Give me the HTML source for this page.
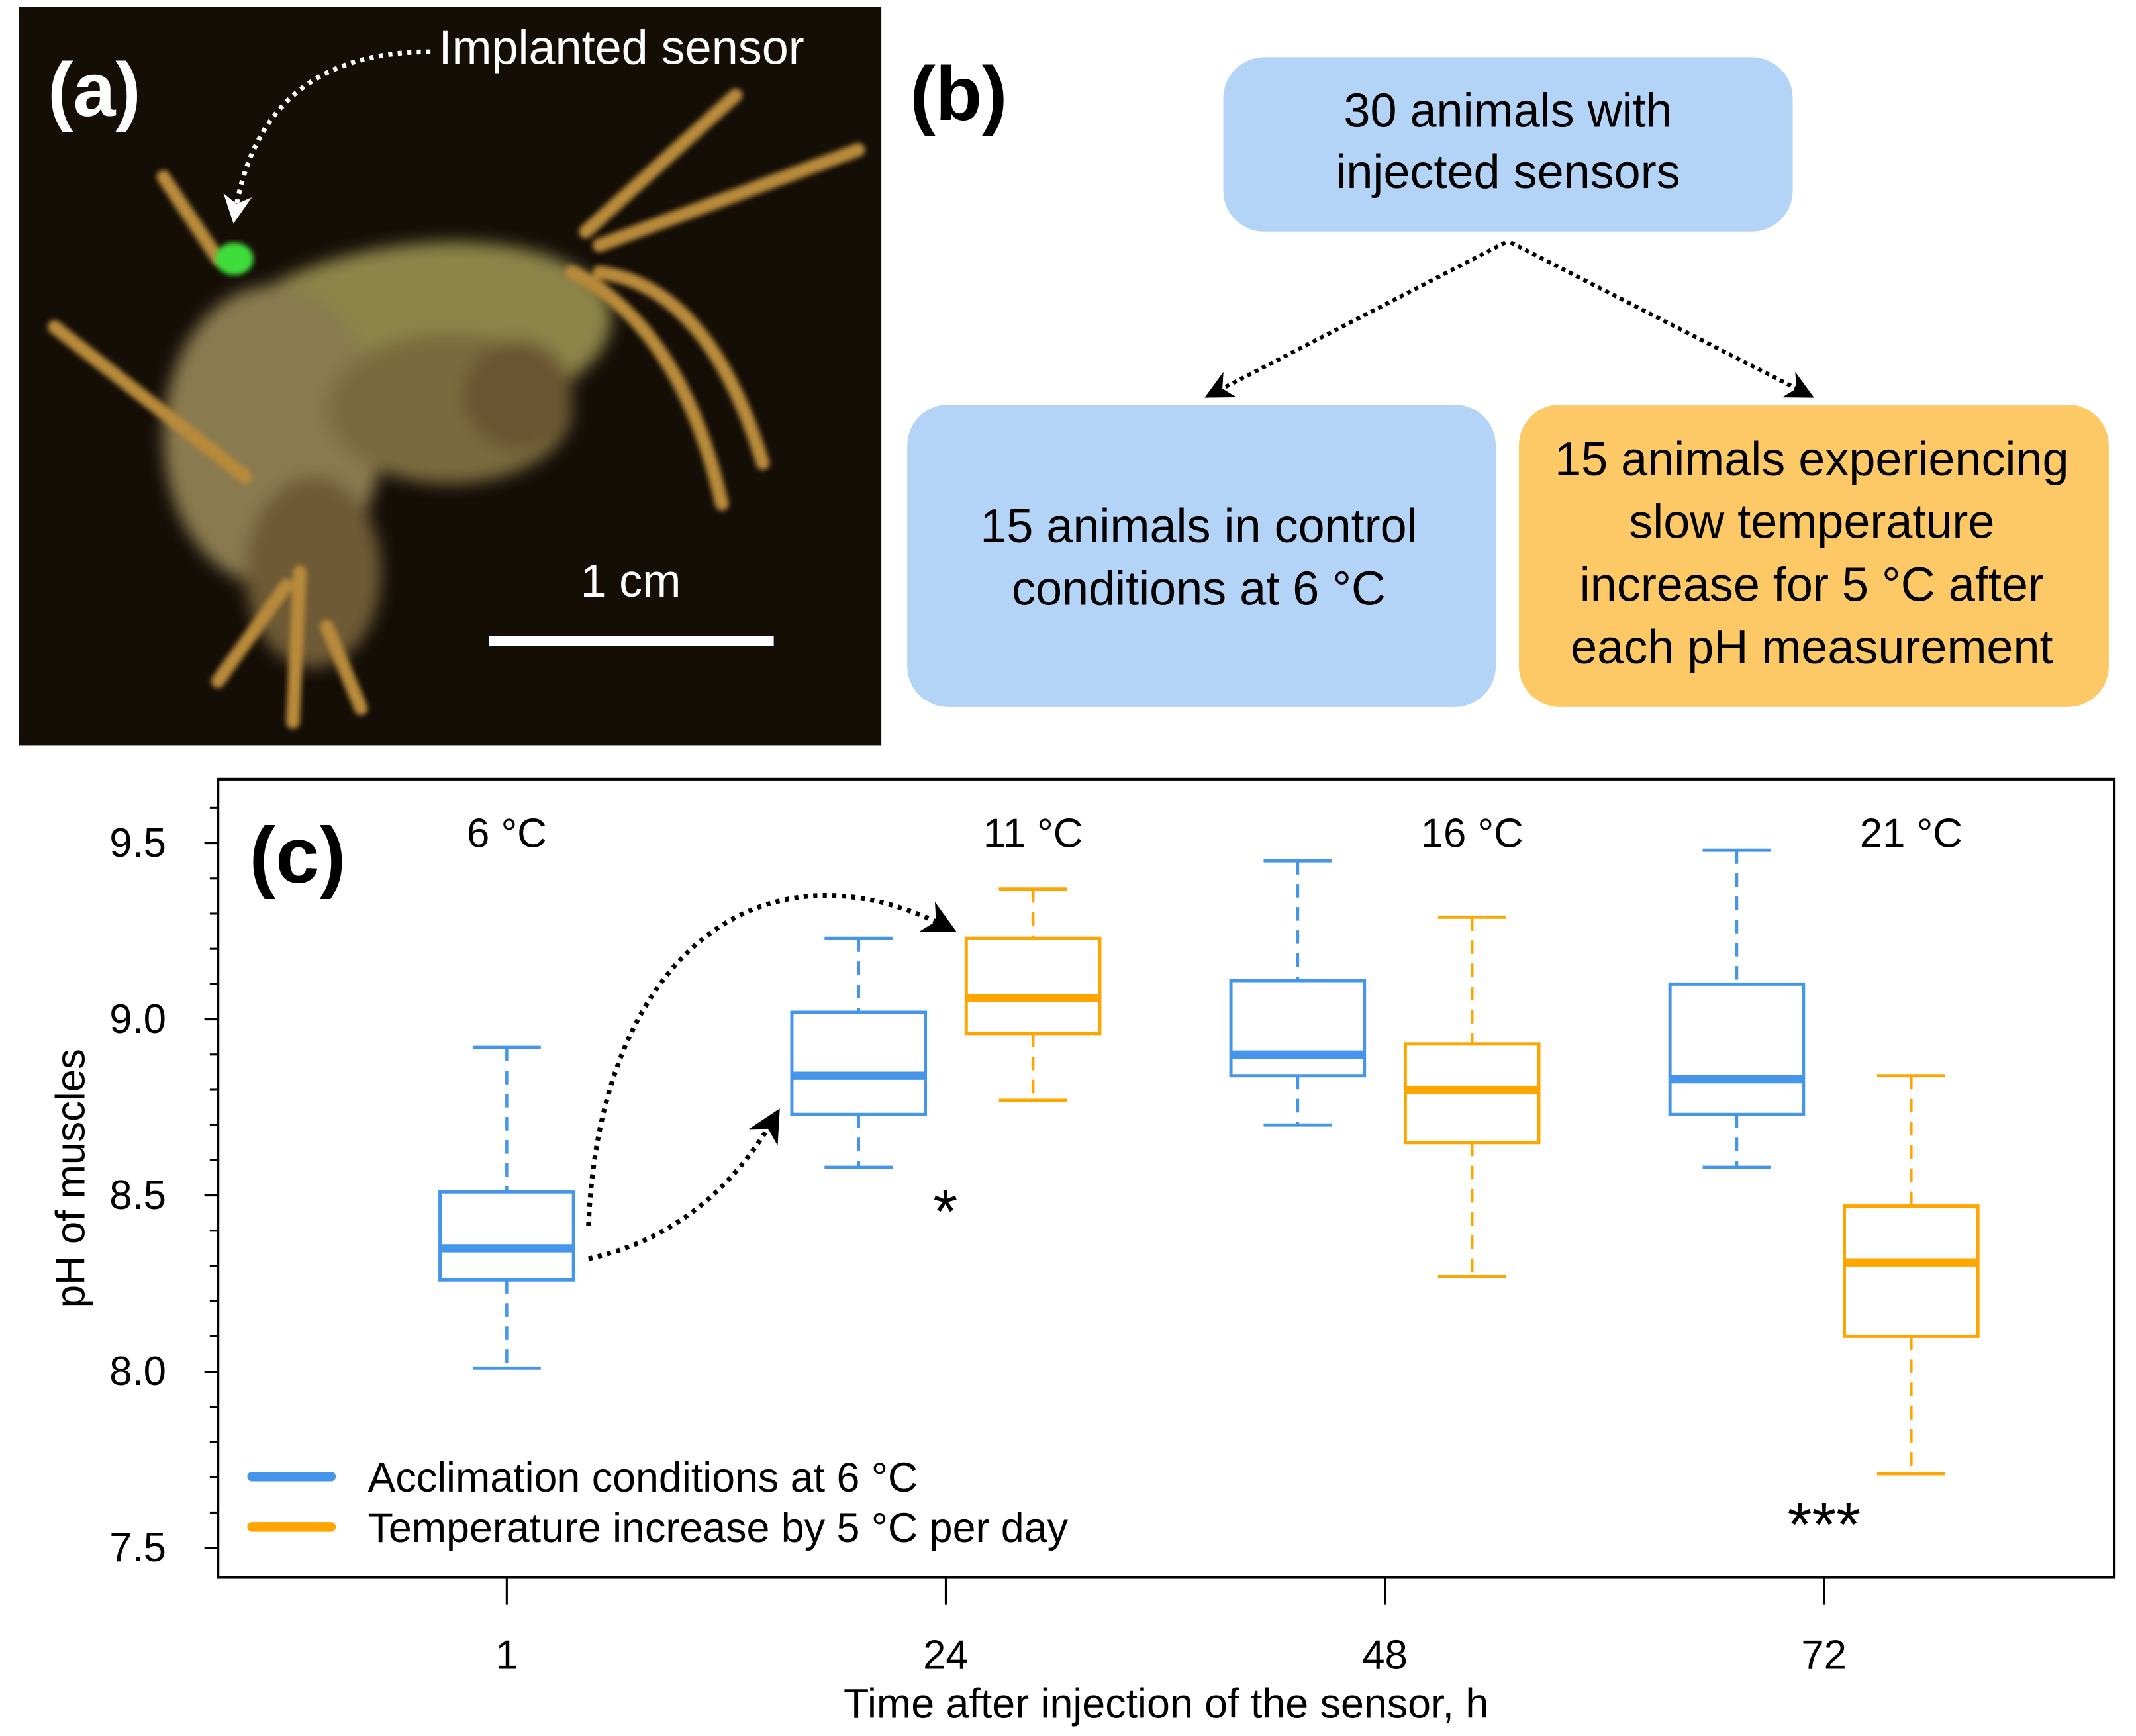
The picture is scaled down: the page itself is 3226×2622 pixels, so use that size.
<!DOCTYPE html>
<html><head><meta charset="utf-8"><style>
html,body{margin:0;padding:0;background:#fff;}
svg{display:block;font-family:"Liberation Sans",Arial,sans-serif;}
</style></head><body>
<svg id="fig" width="3226" height="2622" viewBox="0 0 1568 1274.4" xmlns="http://www.w3.org/2000/svg">
<defs>
<filter id="blur" x="-20%" y="-20%" width="140%" height="140%"><feGaussianBlur stdDeviation="6"/></filter>
<filter id="blur2"><feGaussianBlur stdDeviation="2"/></filter>
<marker id="ah" viewBox="0 0 10 10" refX="8" refY="5" markerWidth="7" markerHeight="7" orient="auto"><path d="M0,0 L10,5 L0,10 L3,5 z" fill="#000"/></marker>
<marker id="ahw" viewBox="0 0 10 10" refX="8" refY="5" markerWidth="6" markerHeight="6" orient="auto"><path d="M0,0 L10,5 L0,10 L3,5 z" fill="#fff"/></marker>
</defs>

<g>
<rect x="14" y="5" width="633" height="542" fill="#140e07"/>
<g filter="url(#blur)">
<ellipse cx="300" cy="250" rx="150" ry="70" fill="#8c8448" transform="rotate(-8 300 250)"/>
<ellipse cx="200" cy="320" rx="80" ry="110" fill="#8a7a50"/>
<ellipse cx="330" cy="300" rx="90" ry="55" fill="#7a6a3c"/>
<ellipse cx="230" cy="420" rx="50" ry="70" fill="#6e5a34"/>
<ellipse cx="380" cy="290" rx="40" ry="40" fill="#6a5430"/>
</g>
<g stroke="#b88a3a" stroke-width="10" stroke-linecap="round" fill="none" filter="url(#blur2)">
<path d="M430,170 L540,70"/><path d="M440,180 L630,110"/>
<path d="M440,200 Q520,210 560,340"/><path d="M420,200 Q500,240 530,370"/>
<path d="M220,420 L215,530"/><path d="M180,350 L40,240"/><path d="M210,430 L160,500"/>
<path d="M240,460 L265,520"/><path d="M160,190 L120,130"/>
</g>
<ellipse cx="172" cy="190" rx="14" ry="12" fill="#3fdc3a" filter="url(#blur2)"/>
<text x="35" y="85" font-size="56" font-weight="bold" fill="#fff">(a)</text>
<text x="322" y="47" font-size="35" fill="#fff">Implanted sensor</text>
<path d="M316,38 Q190,38 172,160" fill="none" stroke="#fff" stroke-width="3.5" stroke-dasharray="3,4" marker-end="url(#ahw)"/>
<text x="463" y="438" font-size="34" fill="#fff" text-anchor="middle">1 cm</text>
<rect x="359" y="467" width="209" height="7" fill="#fff"/>
</g>

<g>
<text x="668" y="88" font-size="56" font-weight="bold">(b)</text>
<rect x="898" y="42" width="418" height="128" rx="30" fill="#b3d3f7"/>
<text x="1107" y="93" font-size="35" text-anchor="middle">30 animals with</text>
<text x="1107" y="138" font-size="35" text-anchor="middle">injected sensors</text>
<rect x="666" y="297" width="432" height="222" rx="30" fill="#b3d3f7"/>
<text x="880" y="398" font-size="35" text-anchor="middle">15 animals in control</text>
<text x="880" y="444" font-size="35" text-anchor="middle">conditions at 6 °C</text>
<rect x="1115" y="297" width="433" height="222" rx="30" fill="#fdc966"/>
<text x="1330" y="349" font-size="35" text-anchor="middle">15 animals experiencing</text>
<text x="1330" y="395" font-size="35" text-anchor="middle">slow temperature</text>
<text x="1330" y="441" font-size="35" text-anchor="middle">increase for 5 °C after</text>
<text x="1330" y="487" font-size="35" text-anchor="middle">each pH measurement</text>
<path d="M1105,178 L888,290" stroke="#000" stroke-width="3" stroke-dasharray="3,3" fill="none" marker-end="url(#ah)"/>
<path d="M1109,178 L1328,290" stroke="#000" stroke-width="3" stroke-dasharray="3,3" fill="none" marker-end="url(#ah)"/>
</g>

<g id="chart">
<rect x="160" y="572" width="1392" height="586" fill="none" stroke="#000" stroke-width="2"/>
<text x="183" y="648" font-size="58" font-weight="bold">(c)</text>
<text transform="translate(62,865) rotate(-90)" font-size="30" text-anchor="middle">pH of muscles</text>
<text x="856" y="1261" font-size="30.5" text-anchor="middle">Time after injection of the sensor, h</text>
<path d="M432,924 Q520,905 570,818" fill="none" stroke="#000" stroke-width="3.5" stroke-dasharray="3,4" marker-end="url(#ah)"/>
<path d="M432,900 C440,700 560,610 698,682" fill="none" stroke="#000" stroke-width="3.5" stroke-dasharray="3,4" marker-end="url(#ah)"/>
<text x="694" y="905" font-size="46" text-anchor="middle">*</text>
<text x="1339" y="1135" font-size="46" text-anchor="middle">***</text>
<line x1="185" y1="1084" x2="243" y2="1084" stroke="#4596ea" stroke-width="7" stroke-linecap="round"/>
<line x1="185" y1="1121" x2="243" y2="1121" stroke="#ffa500" stroke-width="7" stroke-linecap="round"/>
<text x="270" y="1095" font-size="30.5">Acclimation conditions at 6 °C</text>
<text x="270" y="1132" font-size="30.5">Temperature increase by 5 °C per day</text>
</g>
</svg>
<script>
const categories = ["1", "24", "48", "72"];
const tempLabels = ["6 °C", "11 °C", "16 °C", "21 °C"];
const yTicks = [7.5, 8.0, 8.5, 9.0, 9.5];
const yTickLabels = ["7.5", "8.0", "8.5", "9.0", "9.5"];
// [whiskerLow, q1, median, q3, whiskerHigh]
const controlStats = [
  [8.01, 8.26, 8.35, 8.51, 8.92],
  [8.58, 8.73, 8.84, 9.02, 9.23],
  [8.70, 8.84, 8.90, 9.11, 9.45],
  [8.58, 8.73, 8.83, 9.10, 9.48]
];
const treatmentStats = [
  null,
  [8.77, 8.96, 9.06, 9.23, 9.37],
  [8.27, 8.65, 8.80, 8.93, 9.29],
  [7.71, 8.10, 8.31, 8.47, 8.84]
];

const NS = "http://www.w3.org/2000/svg";
const g = document.getElementById("chart");
function y(v){ return 619 + (9.5 - v) * 258.6; }
function xTick(i){ return 372 + i * 322.3; }
function mk(tag, attrs){ const e = document.createElementNS(NS, tag); for (const k in attrs) e.setAttribute(k, attrs[k]); g.appendChild(e); return e; }

for (let k = 0; k <= 21; k++) {
  const v = 7.5 + k * 0.1;
  const major = (k % 5 === 0);
  const t = mk("line", {x1: 160, x2: major ? 150 : 154, y1: y(v), y2: y(v), stroke: "#000", "stroke-width": 1.5});
  
  
}
yTicks.forEach((v, i) => {
  const t = mk("text", {x: 122, y: y(v) + 10, "font-size": 30, "text-anchor": "end"});
  t.textContent = yTickLabels[i];
  
  
});
categories.forEach((c, i) => {
  const l = mk("line", {x1: xTick(i), x2: xTick(i), y1: 1158, y2: 1178, stroke: "#000", "stroke-width": 1.5});
  
  
  const t = mk("text", {x: xTick(i), y: 1225, "font-size": 30, "text-anchor": "middle"});
  t.textContent = c;
  
  
  const tl = mk("text", {x: i === 0 ? xTick(i) : xTick(i) + 64, y: 622, "font-size": 30, "text-anchor": "middle"});
  tl.textContent = tempLabels[i];
  
  
});

function drawBox(cx, s, color, name){
  const hw = 49, cap = 25;
  const [lo, q1, med, q3, hi] = s;
  const w1 = mk("line", {x1: cx, x2: cx, y1: y(hi), y2: y(q3), stroke: color, "stroke-width": 2.2, "stroke-dasharray": "10,7"});
  
  
  const w2 = mk("line", {x1: cx, x2: cx, y1: y(q1), y2: y(lo), stroke: color, "stroke-width": 2.2, "stroke-dasharray": "10,7"});
  
  
  const c1 = mk("line", {x1: cx - cap, x2: cx + cap, y1: y(hi), y2: y(hi), stroke: color, "stroke-width": 2.4});
  
  
  const c2 = mk("line", {x1: cx - cap, x2: cx + cap, y1: y(lo), y2: y(lo), stroke: color, "stroke-width": 2.4});
  
  
  const r = mk("rect", {x: cx - hw, y: y(q3), width: 2 * hw, height: y(q1) - y(q3), fill: "#fff", stroke: color, "stroke-width": 2.4});
  
  
  const m = mk("line", {x1: cx - hw, x2: cx + hw, y1: y(med), y2: y(med), stroke: color, "stroke-width": 6});
  
  
}
controlStats.forEach((s, i) => { drawBox(i === 0 ? xTick(i) : xTick(i) - 64, s, "#4596ea", "control-" + categories[i] + "h"); });
treatmentStats.forEach((s, i) => { if (s) drawBox(xTick(i) + 64, s, "#ffa500", "treatment-" + categories[i] + "h"); });
</script>
</body></html>
